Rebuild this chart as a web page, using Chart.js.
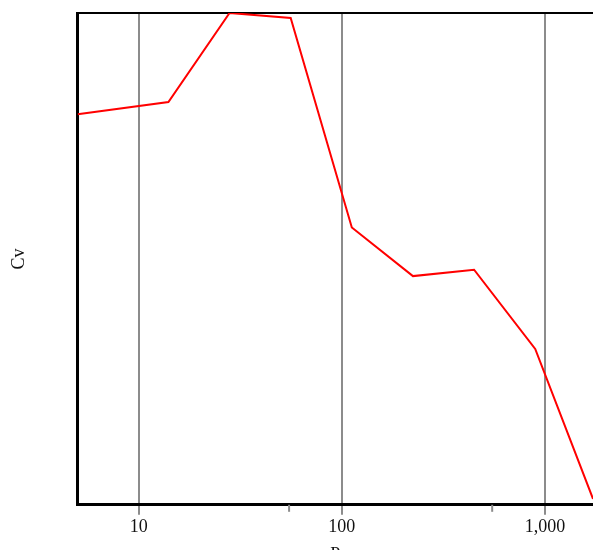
<!DOCTYPE html>
<html>
<head>
<meta charset="utf-8">
<script src="https://cdn.jsdelivr.net/npm/chart.js@4/dist/chart.umd.min.js"></script>
<style>
  html, body { margin: 0; padding: 0; background: #fff; overflow: hidden; }
  #wrap { width: 593px; height: 566px; }
</style>
</head>
<body>
<div id="wrap"><canvas id="c" width="593" height="566"></canvas></div>
<script>
// P values (log axis) and the Cv reading at each
const pValues = [5, 14, 28, 56, 112, 224, 448, 896, 1725];
const cvValues = [79.4, 81.9, 100, 99.0, 56.4, 46.5, 47.8, 31.7, 1.2];

// labelled decades and the short unlabelled marks between them
const majorTicks = [10, 100, 1000];
const minorTicks = [55, 550];

const xRange = [5, 1725];
const yRange = [0, 100];

const fontFamily = "'Liberation Serif', 'DejaVu Serif', serif";
const gridGray = '#8c8c8c';

// short tick marks under the x axis at the minor positions
const minorTickPlugin = {
  id: 'minorTicks',
  afterDraw(chart) {
    const x = chart.scales.x;
    const ctx = chart.ctx;
    const y0 = chart.chartArea.bottom;
    ctx.save();
    ctx.strokeStyle = gridGray;
    ctx.lineWidth = 2;
    minorTicks.forEach(v => {
      const px = x.getPixelForValue(v);
      ctx.beginPath();
      ctx.moveTo(px, y0);
      ctx.lineTo(px, y0 + 7);
      ctx.stroke();
    });
    ctx.restore();
  }
};

new Chart(document.getElementById('c'), {
  type: 'line',
  data: {
    datasets: [{
      data: pValues.map((p, i) => ({ x: p, y: cvValues[i] })),
      borderColor: '#ff0000',
      borderWidth: 2,
      pointRadius: 0,
      tension: 0,
      fill: false
    }]
  },
  options: {
    responsive: false,
    animation: false,
    layout: { padding: { top: 13, left: 0, right: 0, bottom: 0 } },
    plugins: { legend: { display: false }, tooltip: { enabled: false } },
    scales: {
      x: {
        type: 'logarithmic',
        min: xRange[0],
        max: xRange[1],
        afterBuildTicks(scale) {
          scale.ticks = majorTicks.map(v => ({ value: v }));
        },
        ticks: {
          autoSkip: false,
          maxRotation: 0,
          padding: 2,
          color: '#111',
          font: { family: fontFamily, size: 18 },
          callback: v => Number(v).toLocaleString('en-US')
        },
        grid: {
          color: gridGray,
          lineWidth: 2,
          tickLength: 10,
          tickColor: gridGray,
          tickWidth: 2
        },
        border: { display: true, color: '#000', width: 3 },
        title: {
          display: true,
          text: 'P',
          color: '#111',
          font: { family: fontFamily, size: 18 },
          padding: { top: 4, bottom: 0 }
        }
      },
      y: {
        min: yRange[0],
        max: yRange[1],
        ticks: { display: false },
        grid: {
          drawTicks: false,
          color: ctx => (ctx.tick && ctx.tick.value === yRange[1]) ? '#000' : 'rgba(0,0,0,0)',
          lineWidth: 2
        },
        border: { display: true, color: '#000', width: 3 },
        title: {
          display: true,
          text: 'Cv',
          color: '#111',
          font: { family: fontFamily, size: 18 },
          padding: { top: 8, bottom: 48 }
        }
      }
    }
  },
  plugins: [minorTickPlugin]
});
</script>
</body>
</html>
